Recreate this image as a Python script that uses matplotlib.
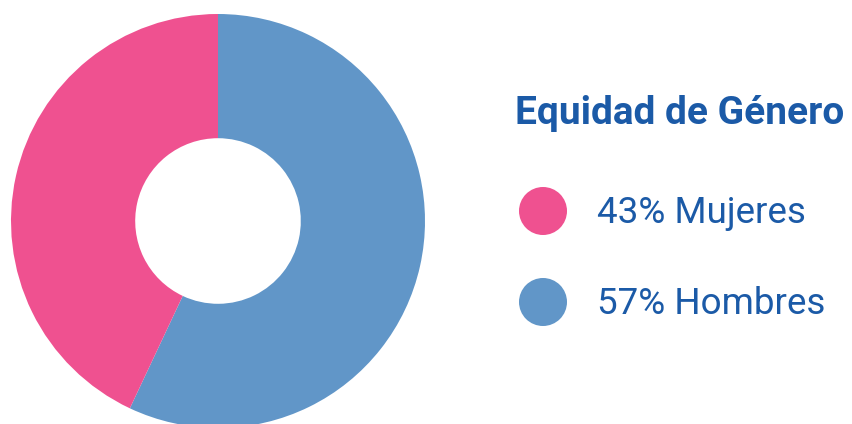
import matplotlib.pyplot as plt
from matplotlib.patches import Circle

labels = ['Mujeres', 'Hombres']
values = [43, 57]
colors = ['#ef5190', '#6196c8']
title = 'Equidad de Género'
text_color = '#1b5aa7'

W, H = 852, 424
fig = plt.figure(figsize=(W / 100, H / 100), dpi=100)

# donut, center and radius in pixels
cx, cy, r = 218, 221, 207
ax = fig.add_axes([(cx - r) / W, (H - cy - r) / H, 2 * r / W, 2 * r / H])
ax.pie(values[::-1], colors=colors[::-1], startangle=90, counterclock=False,
       radius=1, wedgeprops=dict(width=0.6, linewidth=0))
ax.set_xlim(-1, 1)
ax.set_ylim(-1, 1)
ax.set_aspect('equal')
ax.axis('off')

# legend drawn in pixel coords
lg = fig.add_axes([0, 0, 1, 1], zorder=-1)
lg.set_xlim(0, W)
lg.set_ylim(H, 0)
lg.axis('off')
lg.text(515, 124, title, fontsize=28, fontweight='bold', family='Roboto',
        color=text_color, va='baseline', ha='left')
rows = [211, 302]
for i, lab in enumerate(labels):
    lg.add_patch(Circle((543, rows[i]), 24, color=colors[i], lw=0))
    lg.text(597, rows[i] + 12, f'{values[i]}% {lab}', fontsize=26.5,
            family='Roboto', color=text_color, va='baseline', ha='left')

plt.savefig('out.png', dpi=100)
